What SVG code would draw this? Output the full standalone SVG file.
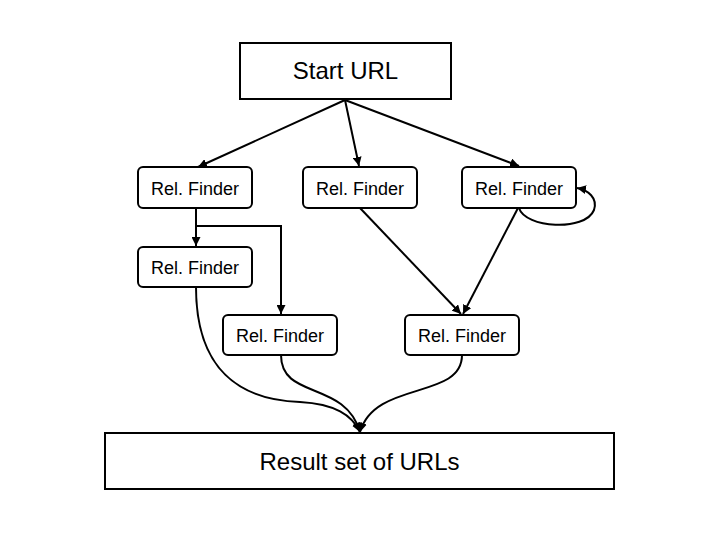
<svg xmlns="http://www.w3.org/2000/svg" width="720" height="540" viewBox="0 0 720 540">
<style>
.box{fill:#fff;stroke:#000;stroke-width:2}
.t{font-family:"Liberation Sans",Arial,sans-serif;fill:#000;text-anchor:middle}
.s{font-size:18px}
.b{font-size:24px}
.c{fill:none;stroke:#000;stroke-width:2;marker-end:url(#ah)}
</style>
<defs>
<marker id="ah" viewBox="0 0 10 10" refX="10" refY="5" markerWidth="4.5" markerHeight="4.5" orient="auto" markerUnits="strokeWidth">
<path d="M0,0 L10,5 L0,10 z" fill="#000"/>
</marker>
</defs>
<rect width="720" height="540" fill="#fff"/>
<g id="connectors">
<path class="c" d="M345,100 L198,167"/>
<path class="c" d="M345,100 L359,166"/>
<path class="c" d="M345,100 L519,166"/>
<path class="c" d="M196,208 L196,246"/>
<path class="c" d="M196,226 L281,226 L281,314"/>
<path class="c" d="M360,208 L461,314"/>
<path class="c" d="M518,208 L463,314"/>
<path class="c" d="M519,208 C525,228 585,232 594,210 C598,198 588,190 577,188"/>
<path class="c" d="M196,287 C196,370 240,400 300,402 C335,404 352,415 360,432"/>
<path class="c" d="M281,355 C281,400 345,380 360,432"/>
<path class="c" d="M462,355 C462,400 375,380 360,432"/>
</g>
<g id="start">
<rect class="box" x="240" y="43" width="211" height="56"/>
<text class="t b" x="345.5" y="79">Start URL</text>
</g>
<g id="rf1">
<rect class="box" x="138" y="167" width="114" height="41" rx="5"/>
<text class="t s" x="195" y="195">Rel. Finder</text>
</g>
<g id="rf2">
<rect class="box" x="303" y="167" width="114" height="41" rx="5"/>
<text class="t s" x="360" y="195">Rel. Finder</text>
</g>
<g id="rf3">
<rect class="box" x="462" y="167" width="114" height="41" rx="5"/>
<text class="t s" x="519" y="195">Rel. Finder</text>
</g>
<g id="rf4">
<rect class="box" x="138" y="247" width="114" height="40" rx="5"/>
<text class="t s" x="195" y="274">Rel. Finder</text>
</g>
<g id="rf5">
<rect class="box" x="223" y="315" width="114" height="40" rx="5"/>
<text class="t s" x="280" y="342">Rel. Finder</text>
</g>
<g id="rf6">
<rect class="box" x="405" y="315" width="114" height="40" rx="5"/>
<text class="t s" x="462" y="342">Rel. Finder</text>
</g>
<g id="result">
<rect class="box" x="105" y="433" width="509" height="56"/>
<text class="t b" x="359.5" y="470">Result set of URLs</text>
</g>
</svg>
